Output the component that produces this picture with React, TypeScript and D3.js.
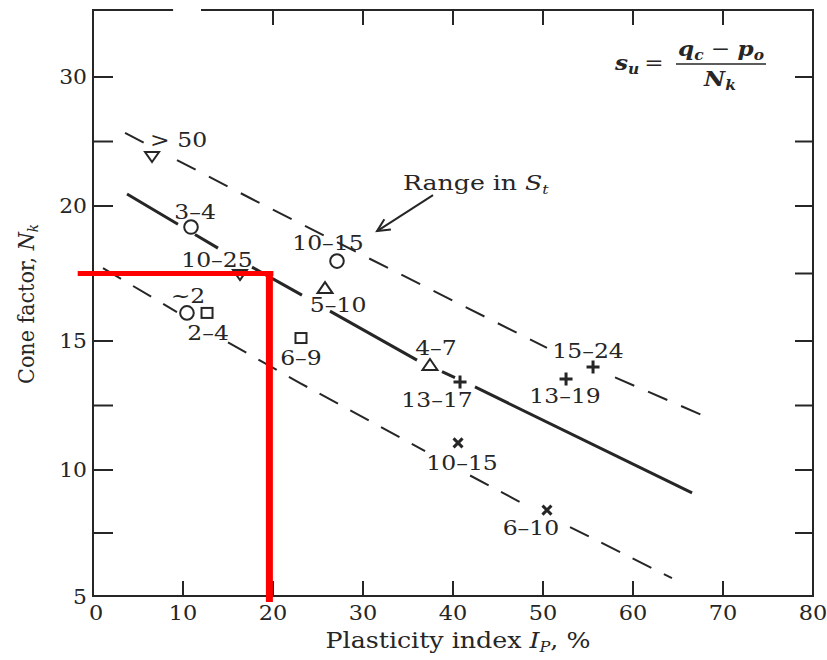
import React from "react";
import * as d3 from "d3";

const W = 827;
const H = 660;

// ---------- axis data ----------
const xTicks = [0, 10, 20, 30, 40, 50, 60, 70, 80];
const xTopTicks = [20, 30, 40, 50, 60, 70];
const yTicks = [5, 7.5, 10, 12.5, 15, 17.5, 20, 25, 30];
const yTickLabels = [5, 10, 15, 20, 30];
// the printed ordinate is not uniform: breakpoints of the axis
const yBreaks = [5, 10, 15, 20, 30, 35.2];

// ---------- points (IP %, Nk) ----------
const ptIP = [6.56, 10.89, 16.33, 10.44, 12.67, 23.11, 25.78, 27.11, 37.44, 40.78, 52.56, 55.56, 40.56, 50.44];
const ptNk = [23.8, 19.22, 17.44, 16.04, 16.04, 15.11, 16.96, 17.96, 14.07, 13.41, 13.53, 13.99, 11.05, 8.41];
const ptMarker = ["triDown", "circle", "triDown", "circle", "square", "square", "triUp", "circle", "triUp", "plus", "plus", "plus", "cross", "cross"];
const ptLabel = ["> 50", "3–4", "10–25", "~2", "2–4", "6–9", "5–10", "10–15", "4–7", "13–17", "13–19", "15–24", "10–15", "6–10"];

// ---------- lines ----------
const solidIP = [3.78, 6.02, 13.89, 23.22, 36.0, 42.44, 66.56];
const solidNk = [20.93, 20, 18.44, 16.7, 14.26, 13.22, 9.09];
const solidPieces = [[3.78, 9.44], [11.33, 13.89], [17.67, 23.22], [26.33, 36.0], [38.78, 40.22], [42.44, 66.56]];

const upperIP = [3.56, 17.44, 19.19, 29.89, 50.44, 67.67];
const upperNk = [25.66, 20.62, 20, 18.19, 14.73, 12.13];
const upperPieces = [[3.56, 5.78], [9.33, 50.44], [58.0, 67.67]];

const lowerIP = [1.11, 9.33, 23.0, 47.44, 64.33];
const lowerNk = [17.7, 16.07, 13.37, 8.73, 5.71];
const lowerPieces = [[1.11, 9.33], [15.0, 36.9], [41.9, 47.44], [53.0, 64.33]];

// red guide lines drawn over the figure
const guideIP = 19.6;
const guideNk = 17.5;
const guideStartIP = -1.7;
const guideEndNk = 4.76;

// ---------- styling (label offsets in px) ----------
const labelDx = [26.5, 4, -23, 1, 1, 0, 13, -9, 6, -23, -1, -5, 4, -16];
const labelDy = [-10, -8, -8, -10, 27, 27, 24, -11, -10, 25, 24, -9, 27, 25];

const INK = "#262626";
const FONT = "'DejaVu Serif', serif";
const SX = 1.12;

const x = d3.scaleLinear().domain([0, 80]).range([93, 813]);
const y = d3.scaleLinear().domain(yBreaks).range([596, 470, 341, 206, 77, 10]);

function T(props: any) {
  const { px, py, size = 20, anchor = "middle", sx = SX, children, weight, italic } = props;
  return (
    <text
      transform={`translate(${px},${py}) scale(${sx},1)`}
      textAnchor={anchor}
      fontSize={size}
      fontFamily={FONT}
      fontWeight={weight}
      fontStyle={italic ? "italic" : undefined}
      fill={INK}
    >
      {children}
    </text>
  );
}

function pieces(xs: number[], ys: number[], segs: number[][]) {
  const f = d3.scaleLinear().domain(xs).range(ys);
  const line = d3
    .line<number[]>()
    .x((d) => x(d[0]))
    .y((d) => y(d[1]));
  return segs.map(([a, b]) => {
    const pts: number[][] = [[a, f(a)]];
    xs.forEach((v, i) => {
      if (v > a && v < b) pts.push([v, ys[i]]);
    });
    pts.push([b, f(b)]);
    return line(pts) as string;
  });
}

function Marker({ kind, cx, cy }: any) {
  const common = { stroke: INK, fill: "white", strokeWidth: 2 };
  if (kind === "circle") return <circle cx={cx} cy={cy} r={6.8} {...common} />;
  if (kind === "square") return <rect x={cx - 5.5} y={cy - 5} width={11} height={10} {...common} />;
  if (kind === "triUp")
    return <path transform={`translate(${cx},${cy})`} d="M0,-6L7.5,5L-7.5,5Z" {...common} />;
  if (kind === "triDown")
    return <path transform={`translate(${cx},${cy})`} d="M0,5L7,-5L-7,-5Z" {...common} />;
  if (kind === "plus")
    return <path transform={`translate(${cx},${cy})`} d="M-6.5,0H6.5M0,-6.5V6.5" stroke={INK} strokeWidth={3} fill="none" />;
  return <path transform={`translate(${cx},${cy})`} d="M-4.5,-4.5L4.5,4.5M-4.5,4.5L4.5,-4.5" stroke={INK} strokeWidth={3} fill="none" />;
}

export default function App() {
  const x0 = x(0);
  const x1 = x(80);
  const yb = y(5);
  const yt = y(35.2);
  const solid = pieces(solidIP, solidNk, solidPieces);
  const upper = pieces(upperIP, upperNk, upperPieces);
  const lower = pieces(lowerIP, lowerNk, lowerPieces);

  // annotation anchors
  const arrowFrom = [x(37.78), y(20.85)];
  const arrowTo = [x(31.56), y(19.07)];
  const ang = Math.atan2(arrowTo[1] - arrowFrom[1], arrowTo[0] - arrowFrom[0]);
  const ah = 14;
  const h1 = [arrowTo[0] - ah * Math.cos(ang - 0.45), arrowTo[1] - ah * Math.sin(ang - 0.45)];
  const h2 = [arrowTo[0] - ah * Math.cos(ang + 0.45), arrowTo[1] - ah * Math.sin(ang + 0.45)];

  return (
    <svg width={W} height={H} style={{ position: "absolute", left: 0, top: 0, background: "white" }}>
      <rect x={0} y={0} width={W} height={H} fill="white" />
      {/* frame */}
      <g stroke={INK} strokeWidth={2} fill="none">
        <line x1={x0} y1={yt} x2={x0} y2={yb} />
        <line x1={x0 - 1} y1={yb} x2={x1 + 1} y2={yb} />
        <line x1={x1} y1={yt} x2={x1} y2={yb} />
        <line x1={x0 - 1} y1={yt} x2={x(8.9)} y2={yt} />
        <line x1={x(12.0)} y1={yt} x2={x1 + 1} y2={yt} />
      </g>
      {/* ticks */}
      <g stroke={INK} strokeWidth={2}>
        {xTicks.slice(1, -1).map((t) => (
          <line key={"xb" + t} x1={x(t)} x2={x(t)} y1={yb} y2={yb - 15} />
        ))}
        {xTopTicks.map((t) => (
          <line key={"xt" + t} x1={x(t)} x2={x(t)} y1={yt} y2={yt + 15} />
        ))}
        {yTicks.slice(1).map((t) => (
          <line key={"yl" + t} x1={x0} x2={x0 + 20} y1={y(t)} y2={y(t)} />
        ))}
        {yTicks.slice(1).map((t) => (
          <line key={"yr" + t} x1={x1} x2={x1 - 18} y1={y(t)} y2={y(t)} />
        ))}
      </g>
      {/* tick labels */}
      {xTicks.map((t) => (
        <T key={"xl" + t} px={x(t) + (t === 0 ? 3 : 0)} py={yb + 24} size={20}>
          {t}
        </T>
      ))}
      {yTickLabels.map((t) => (
        <T key={"ylab" + t} px={x0 - 6} py={y(t) + 7 + (t === 5 ? 1 : 0)} size={19.5} anchor="end">
          {t}
        </T>
      ))}
      {/* axis titles */}
      <T px={(x0 + x1) / 2 + 5} py={648} size={22} sx={1.15}>
        Plasticity index <tspan fontStyle="italic">I</tspan>
        <tspan fontStyle="italic" fontSize={14} dy={4}>P</tspan>
        <tspan dy={-4}>, %</tspan>
      </T>
      <text
        transform={`translate(34,${304}) rotate(-90) scale(0.9,1)`}
        textAnchor="middle"
        fontSize={23}
        fontFamily={FONT}
        fill={INK}
      >
        Cone factor, <tspan fontStyle="italic">N</tspan>
        <tspan fontStyle="italic" fontSize={15} dy={4}>k</tspan>
      </text>

      {/* lines */}
      <g fill="none" stroke={INK}>
        {solid.map((d, i) => (
          <path key={"s" + i} d={d} strokeWidth={3} />
        ))}
        {upper.map((d, i) => (
          <path key={"u" + i} d={d} strokeWidth={2} strokeDasharray="21,15" />
        ))}
        {lower.map((d, i) => (
          <path key={"l" + i} d={d} strokeWidth={2} strokeDasharray="21,14" />
        ))}
      </g>

      {/* points & labels */}
      {ptIP.map((v, i) => (
        <g key={"p" + i}>
          <Marker kind={ptMarker[i]} cx={x(v)} cy={y(ptNk[i])} />
          <T px={x(v) + labelDx[i]} py={y(ptNk[i]) + labelDy[i]} size={21}>
            {ptLabel[i]}
          </T>
        </g>
      ))}

      {/* Range in St annotation */}
      <T px={x(34.44)} py={y(21.24)} size={21} anchor="start" sx={1.2}>
        Range in <tspan fontStyle="italic">S</tspan>
        <tspan fontStyle="italic" fontSize={13} dy={4}>t</tspan>
      </T>
      <g stroke={INK} strokeWidth={2} fill="none">
        <line x1={arrowFrom[0]} y1={arrowFrom[1]} x2={arrowTo[0]} y2={arrowTo[1]} />
        <polyline points={`${h1[0]},${h1[1]} ${arrowTo[0]},${arrowTo[1]} ${h2[0]},${h2[1]}`} />
      </g>

      {/* formula */}
      <g>
        <T px={615} py={70} size={21} anchor="start" sx={1.1} weight="bold" italic>
          s<tspan fontSize={14} dy={4}>u</tspan>
        </T>
        <T px={654} py={70} size={21} sx={1.1}>=</T>
        <line x1={676} x2={766} y1={64} y2={64} stroke={INK} strokeWidth={1.5} />
        <T px={721} py={56} size={21} sx={1.1} weight="bold" italic>
          q<tspan fontSize={14} dy={4}>c</tspan>
          <tspan dy={-4} fontStyle="normal" fontWeight="normal"> − </tspan>
          p<tspan fontSize={14} dy={4}>o</tspan>
        </T>
        <T px={720} py={86} size={21} sx={1.1} weight="bold" italic>
          N<tspan fontSize={14} dy={4}>k</tspan>
        </T>
      </g>

      {/* red guide lines */}
      <g stroke="#ff0000" fill="none">
        <line x1={x(guideStartIP)} x2={x(guideIP) + 4} y1={y(guideNk)} y2={y(guideNk)} strokeWidth={5} />
        <line x1={x(guideIP)} x2={x(guideIP)} y1={y(guideNk) - 2.5} y2={y(guideEndNk)} strokeWidth={7} />
      </g>
    </svg>
  );
}
